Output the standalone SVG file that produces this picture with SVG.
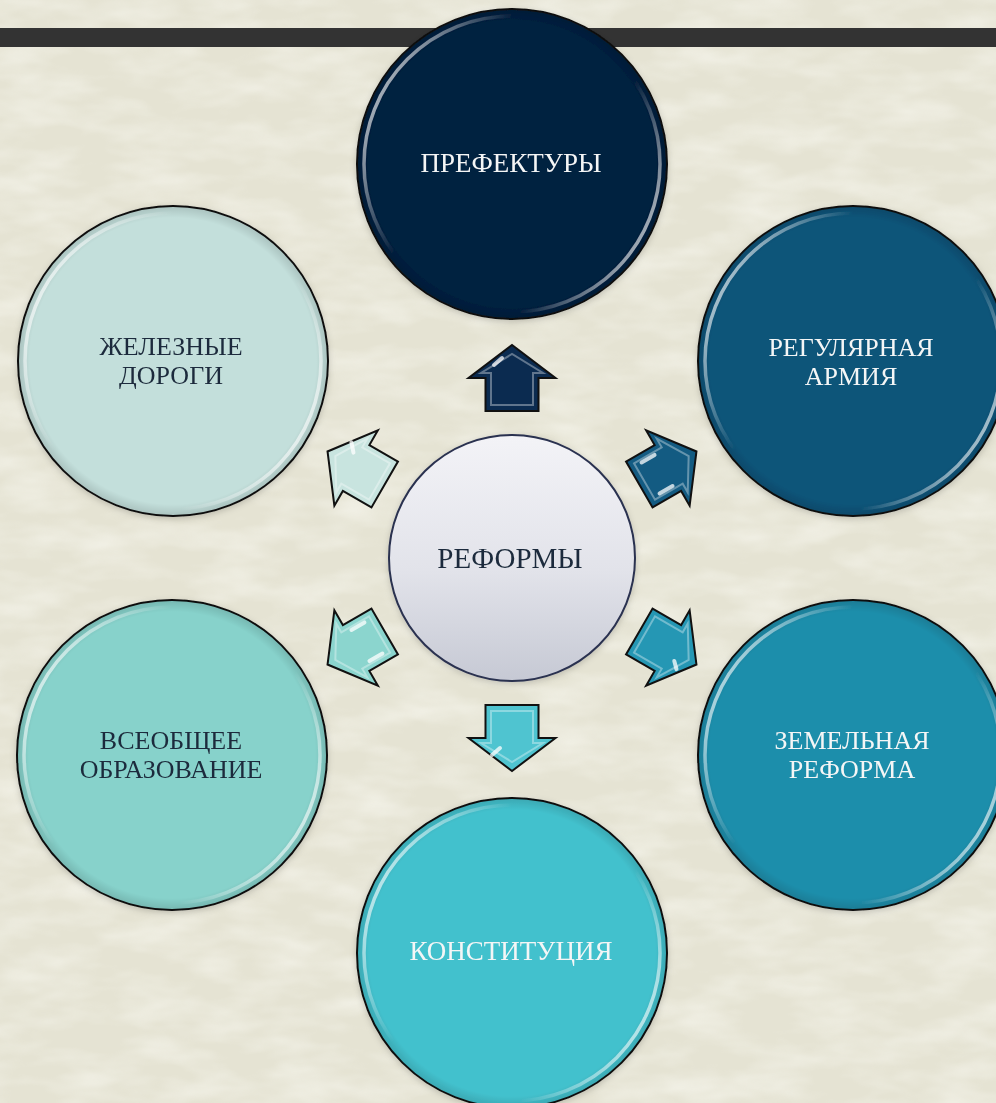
<svg xmlns="http://www.w3.org/2000/svg" width="996" height="1103" viewBox="0 0 996 1103">
<defs>
<style>
.lbl{font-family:"Liberation Serif","Times New Roman",serif;font-size:27px;text-anchor:middle}
.two{font-size:26px}
.lt{fill:#f4f6f6}
.dk{fill:#1d2c3c}
.node{stroke:#111;stroke-width:2}
.ring{fill:none;stroke:url(#ringG);stroke-width:3.5}
.shade{fill:url(#shadeG)}
.ar{stroke:#111;stroke-width:2;stroke-linejoin:miter}
.bev{fill:none;stroke:#fff;stroke-opacity:0.35;stroke-width:2}
.gl{stroke:#fff;stroke-opacity:0.75;stroke-width:4;stroke-linecap:round}
</style>
<linearGradient id="ringG" x1="0" y1="0.25" x2="1" y2="0.75">
<stop offset="0" stop-color="#fff" stop-opacity="0.75"/>
<stop offset="0.3" stop-color="#fff" stop-opacity="0"/>
<stop offset="0.72" stop-color="#fff" stop-opacity="0"/>
<stop offset="1" stop-color="#fff" stop-opacity="0.75"/>
</linearGradient>
<radialGradient id="shadeG" cx="0.5" cy="0.5" r="0.5">
<stop offset="0.93" stop-color="#000" stop-opacity="0"/>
<stop offset="1" stop-color="#000" stop-opacity="0.12"/>
</radialGradient>
<linearGradient id="centerG" x1="0" y1="0" x2="0" y2="1">
<stop offset="0" stop-color="#f3f3f7"/>
<stop offset="0.55" stop-color="#e2e3ea"/>
<stop offset="1" stop-color="#c6c9d4"/>
</linearGradient>
<filter id="sh" x="-20%" y="-20%" width="140%" height="140%">
<feDropShadow dx="0" dy="2" stdDeviation="3" flood-color="#000" flood-opacity="0.18"/>
</filter>
<filter id="tex" x="0" y="0" width="100%" height="100%">
<feTurbulence type="fractalNoise" baseFrequency="0.015 0.04" numOctaves="3" seed="7"/>
<feColorMatrix type="matrix" values="0 0 0 0 1  0 0 0 0 1  0 0 0 0 0.96  1.6 0 0 0 -0.6"/>
</filter>
<path id="arrowShape" d="M147,-26.5 L180,-26.5 L180,-43.5 L213,0 L180,43.5 L180,26.5 L147,26.5 Z"/>
</defs>

<rect width="996" height="1103" fill="#e5e3d3"/>
<rect width="996" height="1103" filter="url(#tex)" opacity="0.55"/>
<rect x="0" y="28" width="996" height="19" fill="#333333"/>

<g id="connectors">
<g id="arrow-up" transform="translate(512 558) rotate(-90)">
<use href="#arrowShape" class="ar" fill="#0b2b50"/>
<path class="bev" d="M153,-21 L185,-21 L185,-31 L204,0 L185,31 L185,21 L153,21 Z"/>
<line class="gl" x1="193" y1="-18" x2="200" y2="-10"/>
</g>
<g id="arrow-ur" transform="translate(512 558) rotate(-30)">
<use href="#arrowShape" class="ar" fill="#135b82"/>
<path class="bev" d="M153,-21 L185,-21 L185,-31 L204,0 L185,31 L185,21 L153,21 Z"/>
<line class="gl" x1="160" y1="-18" x2="175" y2="-18"/>
<line class="gl" x1="160" y1="18" x2="175" y2="18"/>
</g>
<g id="arrow-lr" transform="translate(512 558) rotate(30)">
<use href="#arrowShape" class="ar" fill="#2597b4"/>
<path class="bev" d="M153,-21 L185,-21 L185,-31 L204,0 L185,31 L185,21 L153,21 Z"/>
<line class="gl" x1="192" y1="8" x2="198" y2="14"/>
</g>
<g id="arrow-down" transform="translate(512 558) rotate(90)">
<use href="#arrowShape" class="ar" fill="#4fc4d0"/>
<path class="bev" d="M153,-21 L185,-21 L185,-31 L204,0 L185,31 L185,21 L153,21 Z"/>
<line class="gl" x1="190" y1="12" x2="197" y2="20"/>
</g>
<g id="arrow-ll" transform="translate(512 558) rotate(150)">
<use href="#arrowShape" class="ar" fill="#8bd5ce"/>
<path class="bev" d="M153,-21 L185,-21 L185,-31 L204,0 L185,31 L185,21 L153,21 Z"/>
<line class="gl" x1="160" y1="-18" x2="175" y2="-18"/>
<line class="gl" x1="160" y1="18" x2="175" y2="18"/>
</g>
<g id="arrow-ul" transform="translate(512 558) rotate(210)">
<use href="#arrowShape" class="ar" fill="#c8e4df"/>
<path class="bev" d="M153,-21 L185,-21 L185,-31 L204,0 L185,31 L185,21 L153,21 Z"/>
<line class="gl" x1="190" y1="12" x2="197" y2="20"/>
</g>
</g>

<g id="node-center" filter="url(#sh)">
<circle cx="512" cy="558" r="123" fill="url(#centerG)" stroke="#2a3150" stroke-width="2"/>
<text class="lbl dk" x="510" y="568" style="font-size:29px">РЕФОРМЫ</text>
</g>

<g id="node-prefectures" filter="url(#sh)">
<circle class="node" cx="512" cy="164" r="155" fill="#04203f"/>
<circle class="shade" cx="512" cy="164" r="154"/>
<circle class="ring" cx="512" cy="164" r="148"/>
<text class="lbl lt" x="511" y="172">ПРЕФЕКТУРЫ</text>
</g>

<g id="node-army" filter="url(#sh)">
<circle class="node" cx="853" cy="361" r="155" fill="#0d5479"/>
<circle class="shade" cx="853" cy="361" r="154"/>
<circle class="ring" cx="853" cy="361" r="148"/>
<text class="lbl two lt" x="851" y="356">РЕГУЛЯРНАЯ</text>
<text class="lbl two lt" x="851" y="385">АРМИЯ</text>
</g>

<g id="node-land" filter="url(#sh)">
<circle class="node" cx="853" cy="755" r="155" fill="#1f8eab"/>
<circle class="shade" cx="853" cy="755" r="154"/>
<circle class="ring" cx="853" cy="755" r="148"/>
<text class="lbl two lt" x="852" y="749">ЗЕМЕЛЬНАЯ</text>
<text class="lbl two lt" x="852" y="778">РЕФОРМА</text>
</g>

<g id="node-constitution" filter="url(#sh)">
<circle class="node" cx="512" cy="953" r="155" fill="#43c1cd"/>
<circle class="shade" cx="512" cy="953" r="154"/>
<circle class="ring" cx="512" cy="953" r="148"/>
<text class="lbl lt" x="511" y="960">КОНСТИТУЦИЯ</text>
</g>

<g id="node-education" filter="url(#sh)">
<circle class="node" cx="172" cy="755" r="155" fill="#87d2cb"/>
<circle class="shade" cx="172" cy="755" r="154"/>
<circle class="ring" cx="172" cy="755" r="148"/>
<text class="lbl two dk" x="171" y="749">ВСЕОБЩЕЕ</text>
<text class="lbl two dk" x="171" y="778">ОБРАЗОВАНИЕ</text>
</g>

<g id="node-railways" filter="url(#sh)">
<circle class="node" cx="173" cy="361" r="155" fill="#c3dfdb"/>
<circle class="shade" cx="173" cy="361" r="154"/>
<circle class="ring" cx="173" cy="361" r="148"/>
<text class="lbl two dk" x="171" y="355">ЖЕЛЕЗНЫЕ</text>
<text class="lbl two dk" x="171" y="384">ДОРОГИ</text>
</g>
</svg>
